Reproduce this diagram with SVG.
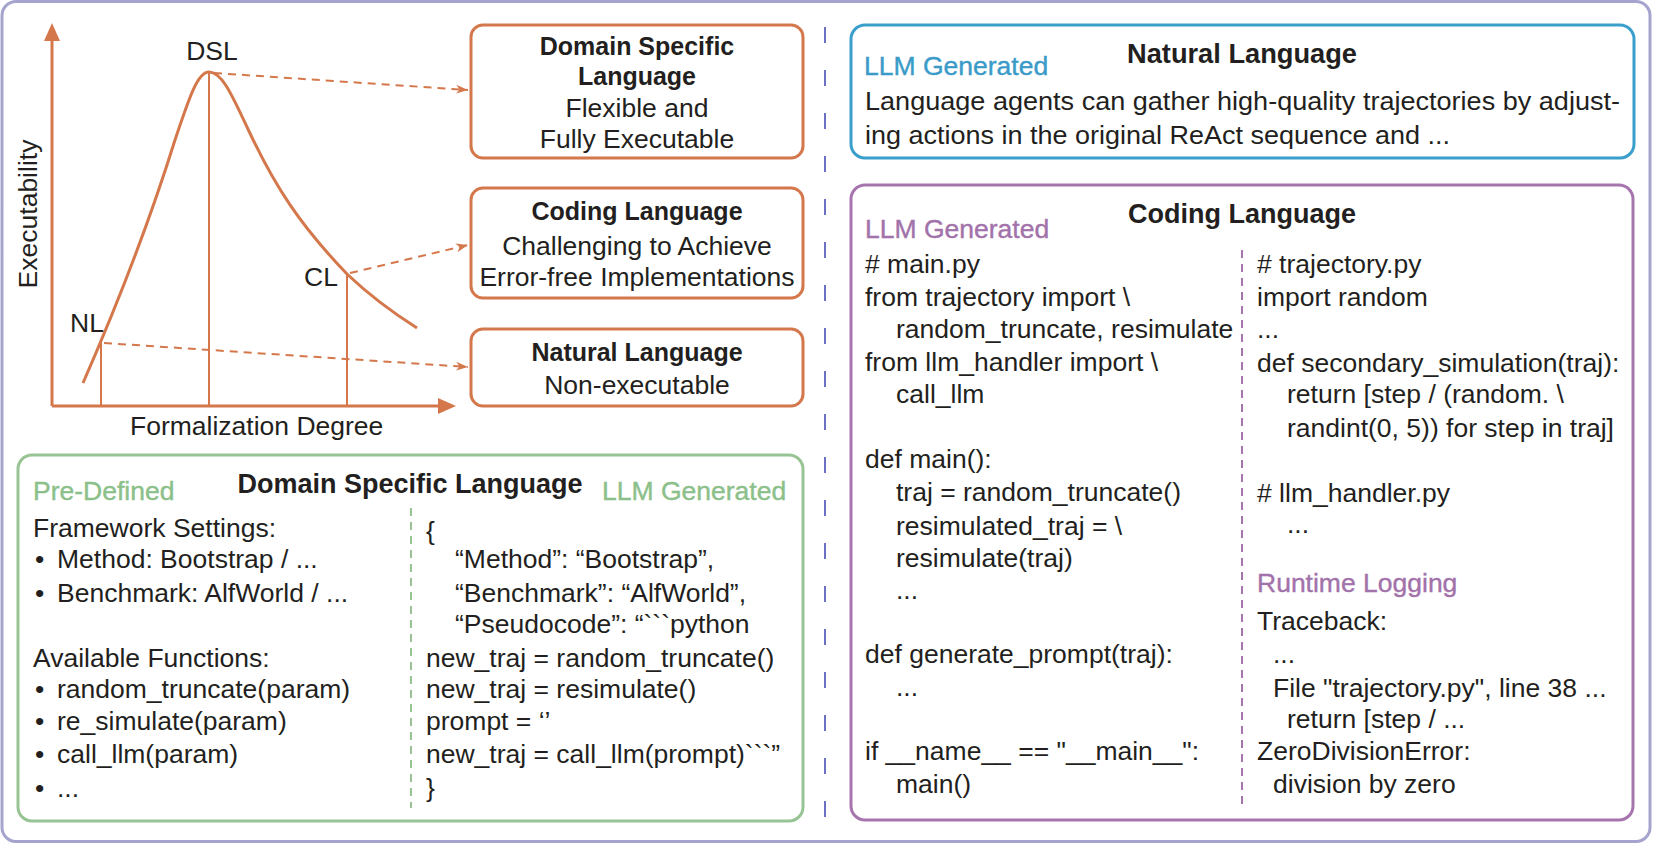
<svg xmlns="http://www.w3.org/2000/svg" width="1653" height="844" viewBox="0 0 1653 844">
<defs>
<style>
text{font-family:"Liberation Sans",Arial,sans-serif;font-size:26.5px;fill:#231f20}
.b{font-weight:bold}
.t25{font-size:25px;font-weight:bold}
.t27{font-size:27px;font-weight:bold}
.m{text-anchor:middle}
.og{stroke:#d4784c;fill:none}
.box{fill:#fff;stroke:#d4784c;stroke-width:3}
.gtx{fill:#8cc08a;stroke:#8cc08a;stroke-width:0.4}
.btx{fill:#3a9bc9;stroke:#3a9bc9;stroke-width:0.4}
.ptx{fill:#a272aa;stroke:#a272aa;stroke-width:0.4}
.dash{stroke:#d4784c;stroke-width:2;stroke-dasharray:8 6;fill:none}
</style>
<marker id="ah" viewBox="0 0 12 10" refX="12" refY="5" markerWidth="12" markerHeight="10" markerUnits="userSpaceOnUse" orient="auto">
<path d="M0,0.5 L12,5 L0,9.5 L3.5,5 Z" fill="#d4784c"/>
</marker>
</defs>
<rect x="0" y="0" width="1653" height="844" fill="#fff"/>
<rect id="frame" x="2" y="1.5" width="1648" height="840" rx="14" fill="none" stroke="#a4a4cf" stroke-width="3"/>
<line x1="825" y1="27" x2="825" y2="820" stroke="#6c70c2" stroke-width="2" stroke-dasharray="16 27"/>

<g id="chart">
<line x1="52" y1="406" x2="52" y2="36" class="og" stroke-width="3"/>
<polygon points="52,23 44,41 60,41" fill="#d4784c"/>
<line x1="52" y1="406" x2="442" y2="406" class="og" stroke-width="3"/>
<polygon points="456,406 438,398 438,414" fill="#d4784c"/>
<path class="og" stroke-width="3" d="M83,383 C115,310 150,220 175,140 C190,95 198,72 209,72 C222,72 232,95 247,127 C275,187 300,225 347,274 C370,296 395,314 417,328"/>
<line x1="101" y1="343" x2="101" y2="406" class="og" stroke-width="2"/>
<line x1="209" y1="72" x2="209" y2="406" class="og" stroke-width="2"/>
<line x1="347" y1="274" x2="347" y2="406" class="og" stroke-width="2"/>
<text x="212" y="60" class="m">DSL</text>
<text x="304" y="286">CL</text>
<text x="70" y="332">NL</text>
<text x="130" y="435">Formalization Degree</text>
<text transform="translate(37,214) rotate(-90)" class="m">Executability</text>
</g>

<g id="connectors">
<line class="dash" x1="214" y1="73" x2="468" y2="90" marker-end="url(#ah)"/>
<line class="dash" x1="350" y1="273" x2="468" y2="245" marker-end="url(#ah)"/>
<line class="dash" x1="104" y1="343" x2="468" y2="367" marker-end="url(#ah)"/>
</g>

<g id="node-dsl">
<rect class="box" x="471" y="25" width="332" height="133" rx="12"/>
<text x="637" y="55" class="t25 m">Domain Specific</text>
<text x="637" y="85" class="t25 m">Language</text>
<text x="637" y="117" class="m">Flexible and</text>
<text x="637" y="148" class="m">Fully Executable</text>
</g>
<g id="node-cl">
<rect class="box" x="471" y="188" width="332" height="110" rx="12"/>
<text x="637" y="220" class="t25 m">Coding Language</text>
<text x="637" y="255" class="m">Challenging to Achieve</text>
<text x="637" y="286" class="m">Error-free Implementations</text>
</g>
<g id="node-nl">
<rect class="box" x="471" y="329" width="332" height="77" rx="12"/>
<text x="637" y="361" class="t25 m">Natural Language</text>
<text x="637" y="394" class="m">Non-executable</text>
</g>

<g id="panel-dsl">
<rect x="18" y="455" width="785" height="366" rx="14" fill="none" stroke="#98c493" stroke-width="3"/>
<text x="33" y="500" class="gtx">Pre-Defined</text>
<text x="410" y="493" class="t27 m">Domain Specific Language</text>
<text x="602" y="500" class="gtx">LLM Generated</text>
<line x1="411" y1="508" x2="411" y2="808" stroke="#98c493" stroke-width="2" stroke-dasharray="8 6"/>
<text x="33" y="537">Framework Settings:</text>
<text y="568"><tspan x="35">•</tspan><tspan x="57">Method: Bootstrap / ...</tspan></text>
<text y="602"><tspan x="35">•</tspan><tspan x="57">Benchmark: AlfWorld / ...</tspan></text>
<text x="33" y="667">Available Functions:</text>
<text y="698"><tspan x="35">•</tspan><tspan x="57">random_truncate(param)</tspan></text>
<text y="730"><tspan x="35">•</tspan><tspan x="57">re_simulate(param)</tspan></text>
<text y="763"><tspan x="35">•</tspan><tspan x="57">call_llm(param)</tspan></text>
<text y="797"><tspan x="35">•</tspan><tspan x="57">...</tspan></text>
<text x="426" y="540">{</text>
<text x="455" y="568">“Method”: “Bootstrap”,</text>
<text x="455" y="602">“Benchmark”: “AlfWorld”,</text>
<text x="455" y="633">“Pseudocode”: “```python</text>
<text x="426" y="667">new_traj = random_truncate()</text>
<text x="426" y="698">new_traj = resimulate()</text>
<text x="426" y="730">prompt = ‘’</text>
<text x="426" y="763">new_traj = call_llm(prompt)```”</text>
<text x="426" y="797">}</text>
</g>

<g id="panel-nl">
<rect x="851" y="25" width="783" height="133" rx="14" fill="none" stroke="#3b9fcc" stroke-width="3"/>
<text x="864" y="75" class="btx">LLM Generated</text>
<text x="1242" y="63" class="t27 m" textLength="230" lengthAdjust="spacingAndGlyphs">Natural Language</text>
<text x="865" y="110" textLength="755" lengthAdjust="spacingAndGlyphs">Language agents can gather high-quality trajectories by adjust-</text>
<text x="865" y="144" textLength="585" lengthAdjust="spacingAndGlyphs">ing actions in the original ReAct sequence and ...</text>
</g>

<g id="panel-cl">
<rect x="851" y="185" width="782" height="635" rx="14" fill="none" stroke="#a675ad" stroke-width="3"/>
<text x="1242" y="223" class="t27 m">Coding Language</text>
<text x="865" y="238" class="ptx">LLM Generated</text>
<line x1="1242" y1="250" x2="1242" y2="805" stroke="#a675ad" stroke-width="2" stroke-dasharray="8 6"/>
<text x="865" y="273"># main.py</text>
<text x="865" y="306">from trajectory import \</text>
<text x="896" y="338">random_truncate, resimulate</text>
<text x="865" y="371">from llm_handler import \</text>
<text x="896" y="403">call_llm</text>
<text x="865" y="468">def main():</text>
<text x="896" y="501">traj = random_truncate()</text>
<text x="896" y="535">resimulated_traj =  \</text>
<text x="896" y="567">resimulate(traj)</text>
<text x="896" y="599">...</text>
<text x="865" y="663">def generate_prompt(traj):</text>
<text x="896" y="696">...</text>
<text x="865" y="760">if __name__ == "__main__":</text>
<text x="896" y="793">main()</text>
<text x="1257" y="273"># trajectory.py</text>
<text x="1257" y="306">import random</text>
<text x="1257" y="338">...</text>
<text x="1257" y="372">def secondary_simulation(traj):</text>
<text x="1287" y="403">return [step / (random. \</text>
<text x="1287" y="437">randint(0, 5)) for step in traj]</text>
<text x="1257" y="502"># llm_handler.py</text>
<text x="1287" y="533">...</text>
<text x="1257" y="592" class="ptx">Runtime Logging</text>
<text x="1257" y="630">Traceback:</text>
<text x="1273" y="663">...</text>
<text x="1273" y="697">File "trajectory.py", line 38 ...</text>
<text x="1287" y="728">return [step / ...</text>
<text x="1257" y="760">ZeroDivisionError:</text>
<text x="1273" y="793">division by zero</text>
</g>
</svg>
